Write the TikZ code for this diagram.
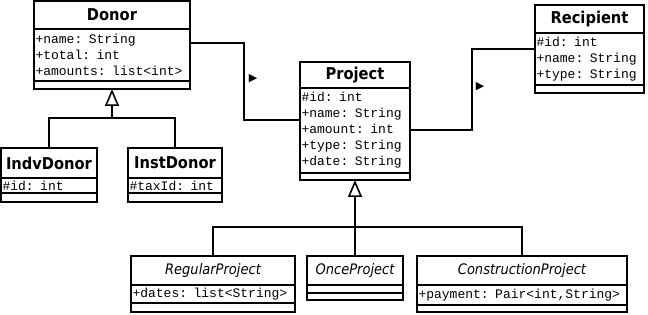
\documentclass[tikz,border=0pt]{standalone}
\usepackage{fontspec}
\setmainfont{DejaVu Sans}
\newfontfamily\classfont{DejaVu Sans Condensed}
\newfontfamily\memberfont{Liberation Mono}
\newfontfamily\symfont{DejaVu Sans}
\usetikzlibrary{arrows.meta,calc}
\begin{document}
\begin{tikzpicture}[x=1pt,y=-1pt,
  box/.style={draw=black, line width=1.6pt, anchor=north west, inner sep=0pt, outer sep=0pt},
  ctitle/.style={box, font=\classfont\bfseries\fontsize{16.3}{18}\selectfont},
  atitle/.style={box, font=\classfont\itshape\fontsize{14.5}{17}\selectfont},
  members/.style={box, font=\memberfont\fontsize{13}{16}\selectfont, align=left, inner xsep=1.5pt, inner ysep=0pt},
  link/.style={line width=1.6pt},
  gen/.style={line width=1.6pt, -{Triangle[open, length=17pt, width=14pt]}},
  dirmark/.style={font=\symfont\fontsize{11}{11}\selectfont, inner sep=0pt}
]
\fill[white] (0,0) rectangle (648,315);
\useasboundingbox (0,0) rectangle (648,315);

% Donor
\node[ctitle, minimum width=156pt, minimum height=28pt] (donor) at (34,1) {Donor};
\node[members, text width=153pt, minimum height=52pt] (donorA) at (donor.south west) {+name: String\\+total: int\\+amounts: list<int>};
\node[box, minimum width=156pt, minimum height=8pt] (donorM) at (donorA.south west) {};

% IndvDonor
\node[ctitle, minimum width=96pt, minimum height=30pt] (indv) at (1,148) {IndvDonor};
\node[members, text width=93pt, minimum height=15pt] (indvA) at (indv.south west) {\#id: int};
\node[box, minimum width=96pt, minimum height=9pt] (indvM) at (indvA.south west) {};

% InstDonor
\node[ctitle, minimum width=94pt, minimum height=30pt] (inst) at (128,148) {InstDonor};
\node[members, text width=91pt, minimum height=15pt] (instA) at (inst.south west) {\#taxId: int};
\node[box, minimum width=94pt, minimum height=9pt] (instM) at (instA.south west) {};

% Project
\node[ctitle, minimum width=110pt, minimum height=26pt] (proj) at (300,62) {Project};
\node[members, text width=107pt, minimum height=85pt] (projA) at (proj.south west) {\#id: int\\+name: String\\+amount: int\\+type: String\\+date: String};
\node[box, minimum width=110pt, minimum height=7pt] (projM) at (projA.south west) {};

% Recipient
\node[ctitle, minimum width=109pt, minimum height=28pt] (recip) at (535,5) {Recipient};
\node[members, text width=106pt, minimum height=52pt] (recipA) at (recip.south west) {\#id: int\\+name: String\\+type: String};
\node[box, minimum width=109pt, minimum height=8pt] (recipM) at (recipA.south west) {};

% RegularProject
\node[atitle, minimum width=164pt, minimum height=29pt] (reg) at (131,256) {RegularProject};
\node[members, text width=161pt, minimum height=18pt] (regA) at (reg.south west) {+dates: list<String>};
\node[box, minimum width=164pt, minimum height=9pt] (regM) at (regA.south west) {};

% OnceProject
\node[atitle, minimum width=96pt, minimum height=29pt] (once) at (307,256) {OnceProject};
\node[box, minimum width=96pt, minimum height=8pt] (onceA) at (once.south west) {};
\node[box, minimum width=96pt, minimum height=7pt] (onceM) at (onceA.south west) {};

% ConstructionProject
\node[atitle, minimum width=210pt, minimum height=29pt] (cons) at (417,256) {ConstructionProject};
\node[members, text width=207pt, minimum height=20pt] (consA) at (cons.south west) {+payment: Pair<int,String>};
\node[box, minimum width=210pt, minimum height=7pt] (consM) at (consA.south west) {};

% associations
\draw[link] ($(donorA.north east)+(0,14)$) -- ++(54,0) |- ($(projA.north west)+(0,32)$);
\draw[link] ($(projA.north east)+(0,42)$) -- ++(62,0) |- ($(recipA.north west)+(0,16)$);
\node[dirmark] (dir1) at (253,79) {▶};
\node[dirmark] (dir2) at (480,87) {▶};

% generalisations
\coordinate (dbus) at (112,118);
\draw[link] (indv.north) |- (dbus) -| (inst.north);
\draw[gen] (dbus) -- (donorM.south);

\coordinate (pbus) at (355,227);
\draw[link] (reg.north) |- (pbus) -| (cons.north);
\draw[link] (once.north) -- (pbus);
\draw[gen] (pbus) -- (projM.south);
\end{tikzpicture}
\end{document}
